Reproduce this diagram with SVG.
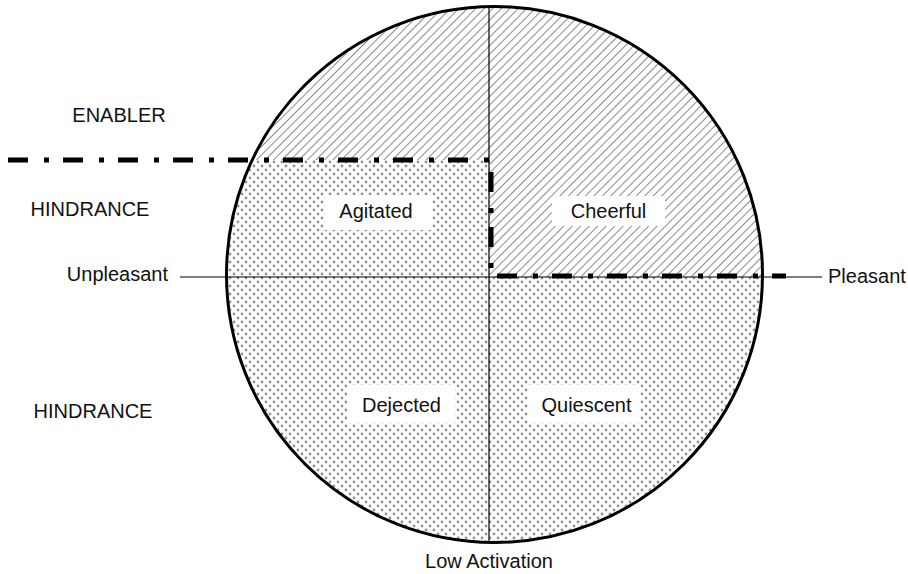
<svg xmlns="http://www.w3.org/2000/svg" width="908" height="574" viewBox="0 0 908 574">
<style>
.t{font-family:"Liberation Sans",Arial,sans-serif;font-size:20px;fill:#111;}
.ax{stroke:#000;stroke-width:1.2;fill:none;}
.lbl{fill:#fff;}
</style>
<defs>
<pattern id="hatch" width="6" height="6" patternUnits="userSpaceOnUse" patternTransform="rotate(45)">
<rect width="6" height="6" fill="#fff"/>
<line x1="0" y1="0" x2="0" y2="6" stroke="#8a8a8a" stroke-width="2"/>
</pattern>
<pattern id="dots" width="8" height="8" patternUnits="userSpaceOnUse">
<rect width="8" height="8" fill="#fff"/>
<circle cx="2" cy="2" r="1.4" fill="#929292"/>
<circle cx="6" cy="6" r="1.4" fill="#929292"/>
</pattern>
<clipPath id="cc"><circle cx="494.5" cy="274.5" r="268"/></clipPath>
</defs>
<rect width="908" height="574" fill="#fff"/>
<g id="circle">
<circle cx="494.5" cy="274.5" r="268" fill="url(#dots)"/>
<path d="M0 0H908V277H490V160H0Z" fill="url(#hatch)" clip-path="url(#cc)"/>
<circle cx="494.5" cy="274.5" r="268" fill="none" stroke="#000" stroke-width="3"/>
</g>
<g id="connectors">
<line class="ax" x1="180" y1="277" x2="822" y2="277"/>
<line class="ax" x1="489" y1="7" x2="489" y2="543"/>
<path d="M8 160H491V276H786" fill="none" stroke="#000" stroke-width="5" stroke-dasharray="20 16 5 14"/>
</g>
<g id="agitated">
<rect class="lbl" x="325" y="195" width="107" height="35"/>
<text class="t" x="376" y="218" text-anchor="middle">Agitated</text>
</g>
<g id="cheerful">
<rect class="lbl" x="552" y="196" width="113" height="30"/>
<text class="t" x="608.5" y="218" text-anchor="middle">Cheerful</text>
</g>
<g id="dejected">
<rect class="lbl" x="347" y="385" width="108" height="38"/>
<text class="t" x="401.5" y="412" text-anchor="middle">Dejected</text>
</g>
<g id="quiescent">
<rect class="lbl" x="528" y="385" width="112" height="38"/>
<text class="t" x="586.5" y="412" text-anchor="middle">Quiescent</text>
</g>
<g id="labels">
<text class="t" x="119" y="122" text-anchor="middle">ENABLER</text>
<text class="t" x="90" y="216" text-anchor="middle">HINDRANCE</text>
<text class="t" x="168" y="281" text-anchor="end">Unpleasant</text>
<text class="t" x="828" y="283">Pleasant</text>
<text class="t" x="93" y="418" text-anchor="middle">HINDRANCE</text>
<text class="t" x="489" y="568" text-anchor="middle">Low Activation</text>
</g>
</svg>
